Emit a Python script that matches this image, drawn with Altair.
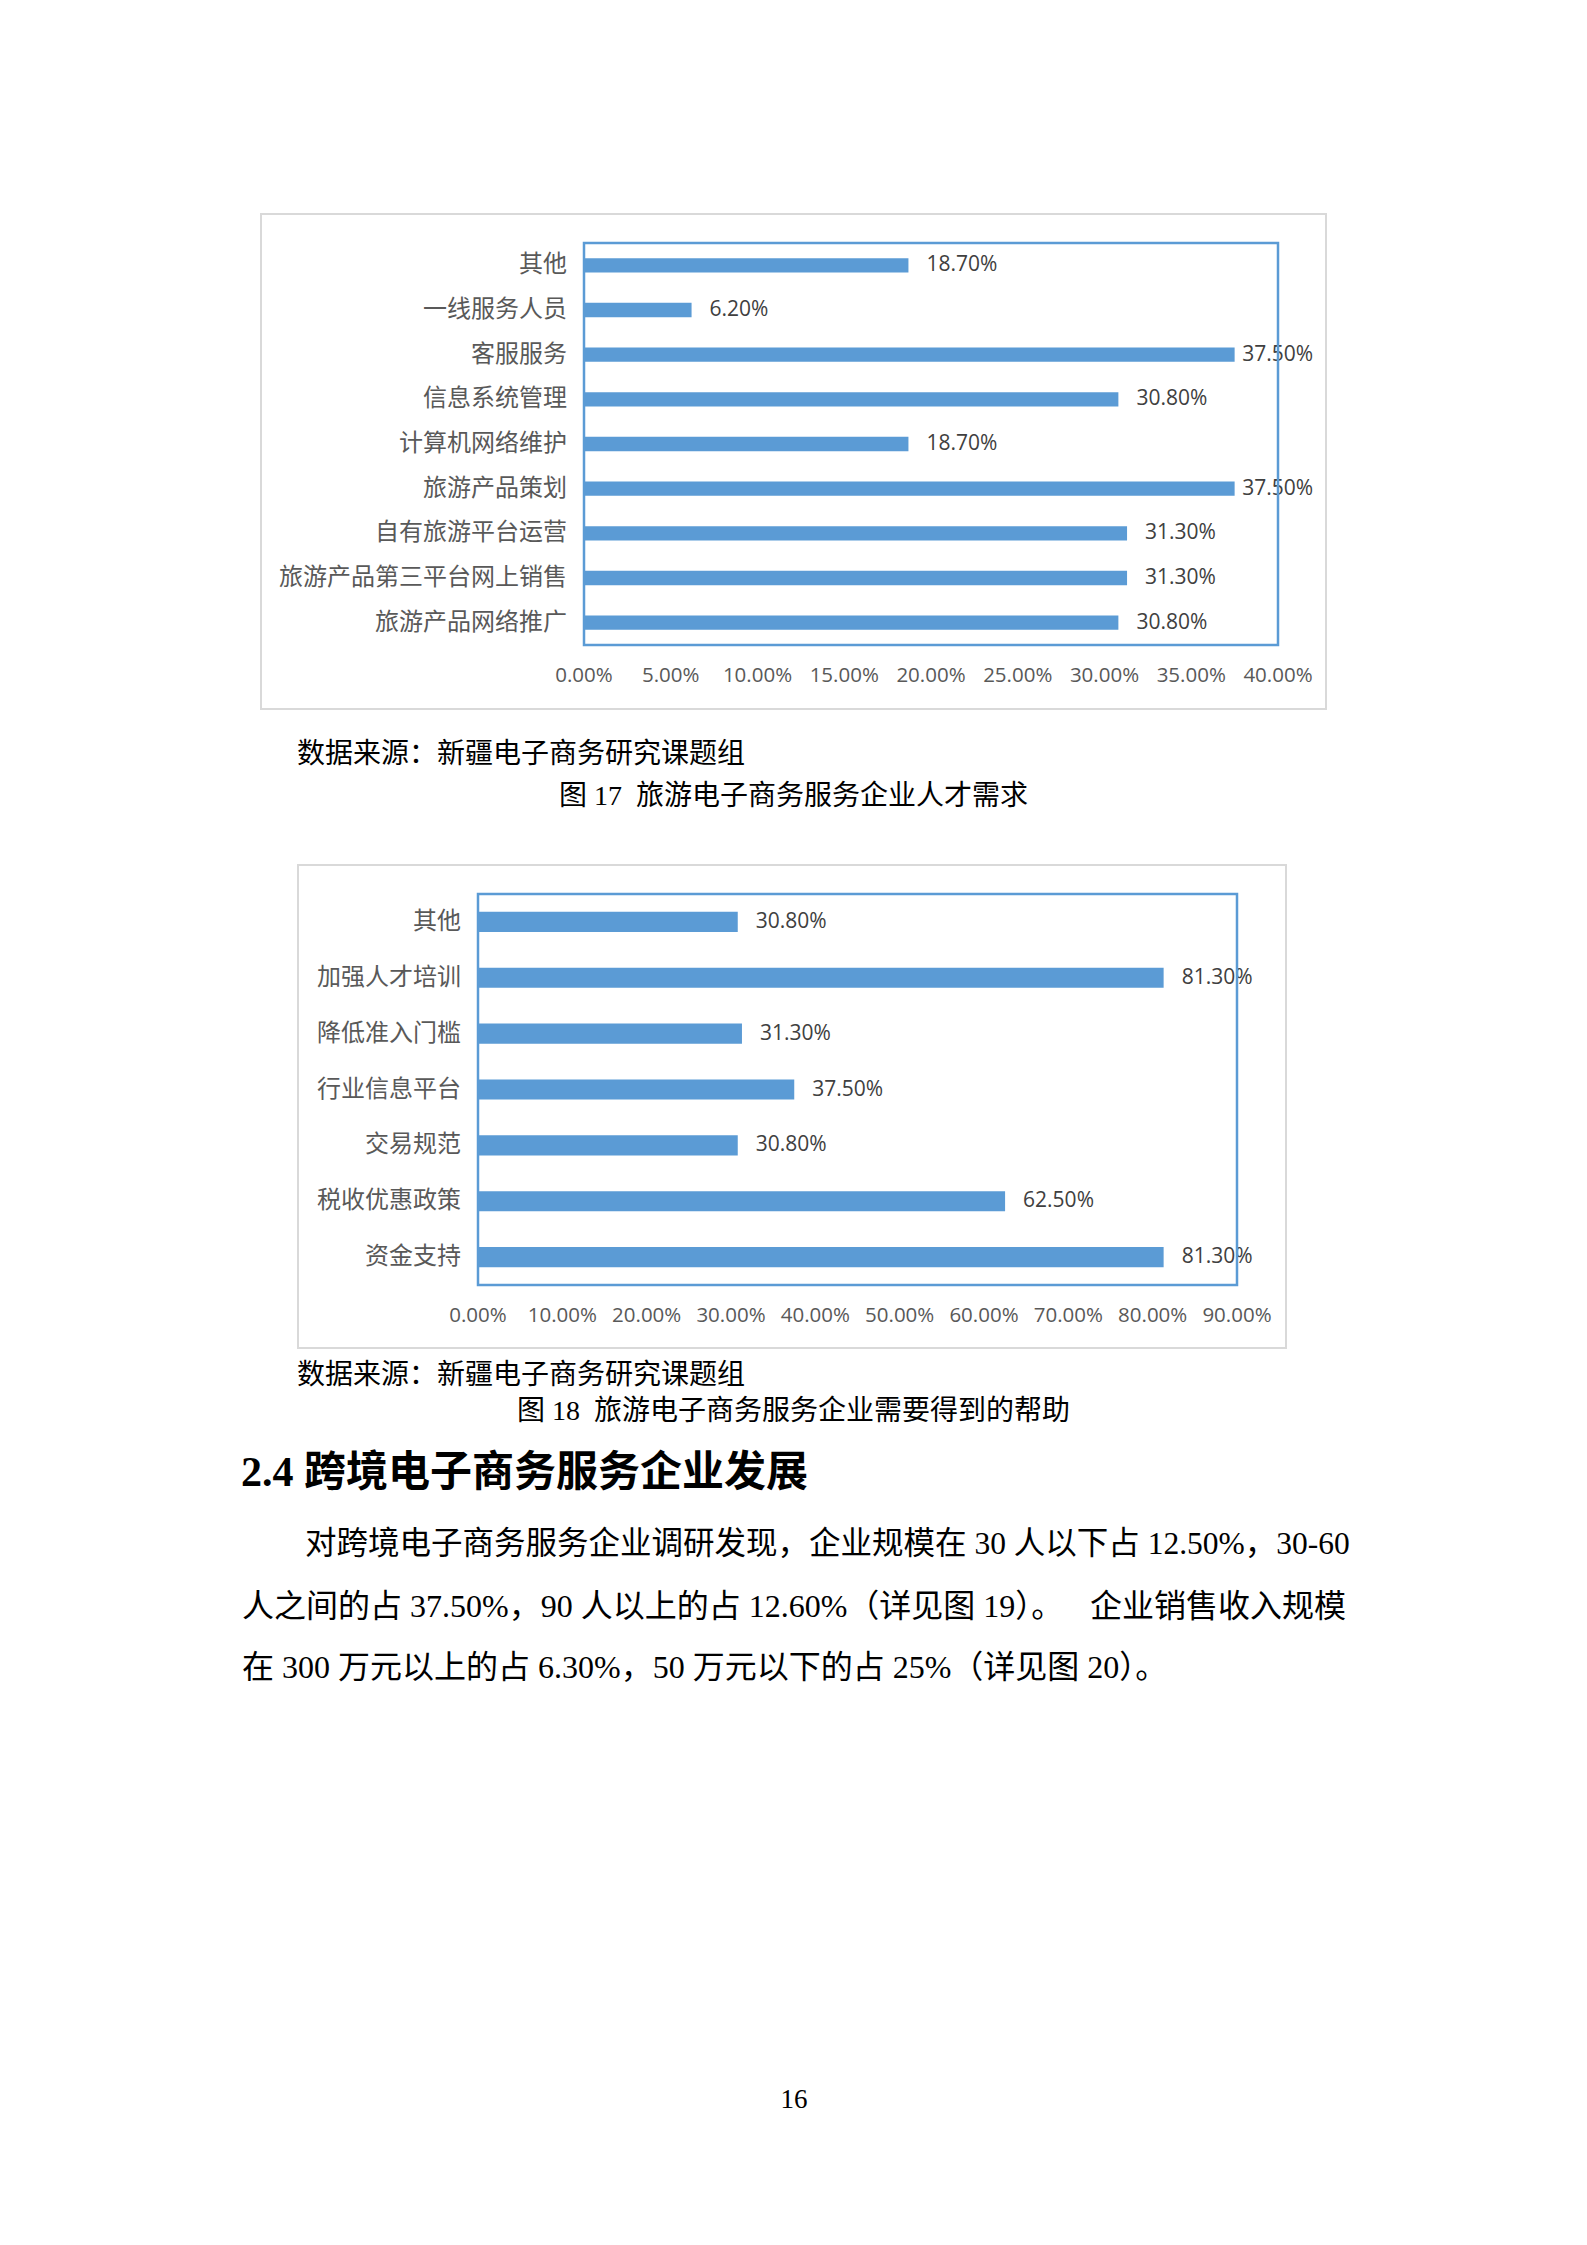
import altair as alt
import pandas as pd

# ---------------- data ----------------
cats17 = ["其他", "一线服务人员", "客服服务", "信息系统管理", "计算机网络维护",
          "旅游产品策划", "自有旅游平台运营", "旅游产品第三平台网上销售", "旅游产品网络推广"]
vals17 = [0.187, 0.062, 0.375, 0.308, 0.187, 0.375, 0.313, 0.313, 0.308]
ticks17 = [0.0, 0.05, 0.10, 0.15, 0.20, 0.25, 0.30, 0.35, 0.40]

cats18 = ["其他", "加强人才培训", "降低准入门槛", "行业信息平台", "交易规范", "税收优惠政策", "资金支持"]
vals18 = [0.308, 0.813, 0.313, 0.375, 0.308, 0.625, 0.813]
ticks18 = [0.0, 0.1, 0.2, 0.3, 0.4, 0.5, 0.6, 0.7, 0.8, 0.9]

NB = "\u00a0"
source_text = "数据来源：新疆电子商务研究课题组"
caption17 = "图" + NB + "17" + NB + NB + "旅游电子商务服务企业人才需求"
caption18 = "图" + NB + "18" + NB + NB + "旅游电子商务服务企业需要得到的帮助"
heading = "2.4 跨境电子商务服务企业发展"
para_line1 = "对跨境电子商务服务企业调研发现，企业规模在 30 人以下占 12.50%，30-60"
para_line2a = "人之间的占 37.50%，90 人以上的占 12.60%（详见图 19）。"
para_line2b = "企业销售收入规模"
para_line3 = "在 300 万元以上的占 6.30%，50 万元以下的占 25%（详见图 20）。"
page_number = "16"

# ---------------- style ----------------
W, H = 1587, 2245
BAR = "#5b9bd5"
NUM_FONT = "Open Sans"
CJK_FONT = "Noto Sans CJK SC"
SERIF = "Liberation Serif, Noto Sans CJK SC"


def one():
    return pd.DataFrame({"k": [0]})


def frame(x0, y0, x1, y1, color, sw):
    return alt.Chart(one()).mark_rect(fill="white", fillOpacity=0, stroke=color, strokeWidth=sw).encode(
        x=alt.value(x0), x2=alt.value(x1), y=alt.value(y0), y2=alt.value(y1))


def panel(cats, vals, ticks, x0, x1, y0, y1, pad, label_cap):
    df = pd.DataFrame({"cat": cats, "val": vals})
    tdf = pd.DataFrame({"tick": ticks})
    xs = alt.Scale(domain=[0, ticks[-1]], range=[x0, x1], nice=False, zero=True)
    ys = alt.Scale(domain=cats, range=[y0, y1], paddingInner=pad, paddingOuter=pad / 2)
    base = alt.Chart(df)
    bars = base.mark_bar(color=BAR).encode(
        x=alt.X("val:Q", scale=xs, axis=None),
        y=alt.Y("cat:N", scale=ys, axis=None),
    )
    # value labels (kept inside the chart area like the original)
    labels = base.transform_calculate(
        lx=f"min(datum.val, {label_cap})"
    ).mark_text(align="left", baseline="middle", dx=18, font=NUM_FONT, fontSize=21,
                color="#404040").encode(
        x=alt.X("lx:Q", scale=xs, axis=None),
        y=alt.Y("cat:N", scale=ys, axis=None),
        text=alt.Text("val:Q", format=".2%"),
    )
    # category axis labels
    cat_labels = base.mark_text(align="right", baseline="middle", font=CJK_FONT, fontSize=24,
                                color="#595959").encode(
        x=alt.value(x0 - 17),
        y=alt.Y("cat:N", scale=ys, axis=None),
        text="cat:N",
    )
    # value axis tick labels
    tick_labels = alt.Chart(tdf).mark_text(align="center", baseline="middle", font=NUM_FONT,
                                           fontSize=20.5, color="#595959").encode(
        x=alt.X("tick:Q", scale=xs, axis=None),
        y=alt.value(y1 + 31),
        text=alt.Text("tick:Q", format=".2%"),
    )
    return alt.layer(bars, labels, cat_labels, tick_labels)


def txt(t, x, y, size, font=SERIF, weight="normal", align="left", color="black"):
    return alt.Chart(pd.DataFrame({"t": [t]})).mark_text(
        align=align, baseline="middle", font=font, fontSize=size, fontWeight=weight, color=color
    ).encode(x=alt.value(x), y=alt.value(y), text="t:N")


layers = [
    frame(261, 214, 1326, 709, "#d9d9d9", 2),
    panel(cats17, vals17, ticks17, 584, 1278, 243, 645, 0.68, 0.369),
    frame(584, 243, 1278, 645, BAR, 2.5),
    frame(298, 865, 1286, 1348, "#d9d9d9", 2),
    panel(cats18, vals18, ticks18, 478, 1237, 894, 1285, 0.64, 10),
    frame(478, 894, 1237, 1285, BAR, 2.5),
    txt(source_text, 297, 755, 28),
    txt(caption17, 793.5, 797, 28, align="center"),
    txt(source_text, 297, 1376, 28),
    txt(caption18, 793.5, 1412, 28, align="center"),
    txt(heading, 241, 1473, 42, weight="bold"),
    txt(para_line1, 305, 1545, 31.5),
    txt(para_line2a, 242, 1607, 32),
    txt(para_line2b, 1346, 1607, 32, align="right"),
    txt(para_line3, 242, 1668, 32),
    txt(page_number, 794, 2100, 27, align="center"),
]

chart = alt.layer(*layers).resolve_scale(x="independent", y="independent").properties(
    width=W, height=H, padding=0, autosize="none", background="white"
).configure_view(stroke=None)

chart.save("out.html", embed_options={"renderer": "svg", "actions": False})
